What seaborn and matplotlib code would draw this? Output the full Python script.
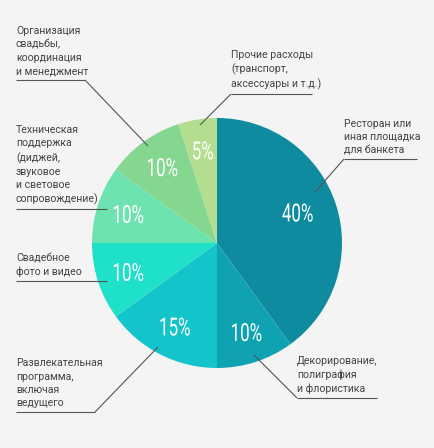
import matplotlib
matplotlib.use("Agg")
import matplotlib.pyplot as plt
import seaborn as sns
from matplotlib.textpath import TextPath
from matplotlib.patches import PathPatch
from matplotlib.font_manager import FontProperties
from matplotlib.transforms import Affine2D

# Wedding budget shares, clockwise from 12 o'clock
categories = [
    "Ресторан или\nиная площадка\nдля банкета",
    "Декорирование,\nполиграфия\nи флористика",
    "Развлекательная\nпрограмма,\nвключая\nведущего",
    "Свадебное\nфото и видео",
    "Техническая\nподдержка\n(диджей,\nзвуковое\nи световое\nсопровождение)",
    "Организация\nсвадьбы,\nкоординация\nи менеджмент",
    "Прочие расходы\n(транспорт,\nаксессуары и т.д.)",
]
shares = [40, 10, 15, 10, 10, 10, 5]
colors = ["#0e8b9f", "#0fa3b2", "#13c4ca", "#1fe0c9", "#6de3af", "#85d78f", "#b3de90"]

# label layout in pixels: underline x0, x1, y, and leader end (x, y) or None
label_layout = [
    (344, 417, 159, (315, 192)),
    (297, 377, 398, (254, 355)),
    (16, 95, 412, (158, 347)),
    (16, 107, 281, None),
    (16, 107, 209, None),
    (16, 85, 80, (148, 146)),
    (231, 312, 94, (200, 125)),
]

W, H = 434, 448
CX, CY, R = 217, 243, 125


def px(x, y):
    return (x - CX) / R, (CY - y) / R


sns.set_theme(style="white")
plt.rcParams["font.family"] = ["Roboto", "DejaVu Sans"]

fig = plt.figure(figsize=(W / 100, H / 100), dpi=100)
fig.patch.set_facecolor("#f4f4f4")
ax = fig.add_axes([0, 0, 1, 1])
ax.set_facecolor("#f4f4f4")

wedges, _, autotexts = ax.pie(
    shares, colors=colors, startangle=90, counterclock=False,
    radius=1, autopct=lambda p: f"{p:.0f}%", pctdistance=0.75,
    wedgeprops=dict(linewidth=0),
)

# percent labels: condensed look, drawn as squeezed text paths
pct_font = FontProperties(family="Roboto", weight="normal")
for t in autotexts:
    x, y = t.get_position()
    if t is autotexts[0]:
        # nudge the big slice label a little toward the centre
        x, y = x * 0.9, y * 1.05
    path = TextPath((0, 0), t.get_text(), size=0.2, prop=pct_font)
    v = path.vertices
    cx = (v[:, 0].min() + v[:, 0].max()) / 2
    cy = (v[:, 1].min() + v[:, 1].max()) / 2
    tr = Affine2D().translate(-cx, -cy).scale(0.68, 1.0).translate(x, y)
    ax.add_patch(PathPatch(tr.transform_path(path), color="white", lw=0))
    t.set_visible(False)

line_kw = dict(color="#555555", lw=0.8, solid_capstyle="butt")
for text, (x0, x1, y, end) in zip(categories, label_layout):
    a = px(x0, y)
    b = px(x1, y)
    ax.plot([a[0], b[0]], [a[1], b[1]], **line_kw)
    if end is not None:
        # leader starts at the underline end closest to the pie
        start = a if abs(x0 - CX) < abs(x1 - CX) else b
        e = px(*end)
        ax.plot([start[0], e[0]], [start[1], e[1]], **line_kw)
    tx, ty = px(x0, y - 4)
    ax.text(tx, ty, text, ha="left", va="bottom", fontsize=7.6,
            color="#444444", linespacing=1.4)

ax.set_xlim(-CX / R, (W - CX) / R)
ax.set_ylim((CY - H) / R, CY / R)
ax.set_aspect("equal")
ax.axis("off")

fig.savefig("out.png", dpi=100, facecolor=fig.get_facecolor())
